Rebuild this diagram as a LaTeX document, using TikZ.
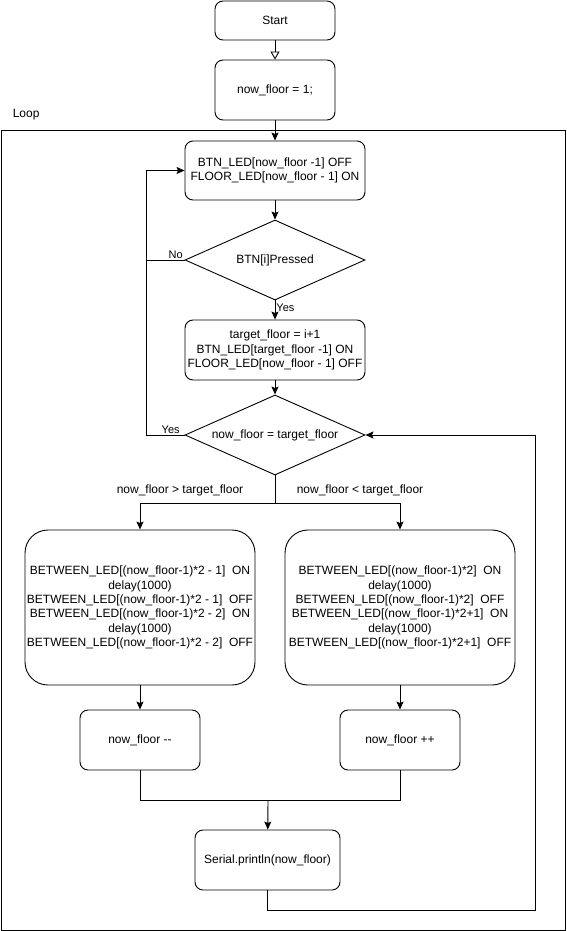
\documentclass[tikz,border=0pt]{standalone}
\usepackage{fontspec}
\setmainfont{Liberation Sans}
\usetikzlibrary{shapes.geometric,arrows.meta}

\tikzset{
    box/.style={draw,rounded corners=8pt,minimum width=120pt,minimum height=60pt,align=center,inner sep=0pt},
    bigbox/.style={draw,rounded corners=23pt,minimum width=230pt,minimum height=155pt,align=center,inner sep=0pt},
    decision/.style={draw,diamond,aspect=2.25,minimum width=180pt,minimum height=80pt,inner sep=0pt,align=center},
    flow/.style={-{Stealth[length=8pt,width=7pt,inset=1.5pt]}},
    edgelabel/.style={font=\fontsize{11}{13}\selectfont,inner sep=1pt},
}

\begin{document}
\begin{tikzpicture}[x=1pt,y=-1pt,line width=0.9pt,font=\fontsize{12}{14.4}\selectfont]
    \useasboundingbox (0,0) rectangle (566,931);

    % Disegna il contenitore del ciclo
    \draw (1,130.5) rectangle (565,930);
    \node[anchor=west] (looplabel) at (9,115) {Loop};

    % Disegna i blocchi
    \node[box,minimum height=39pt] (start) at (275,20.5) {Start};
    \node[box] (init) at (275,90) {now\_floor = 1;};
    \node[box,minimum width=180pt,minimum height=59pt] (show) at (275,170.5)
        {BTN\_LED[now\_floor -1] OFF\\FLOOR\_LED[now\_floor - 1] ON};
    \node[decision] (press) at (275,260) {BTN[i]Pressed};
    \node[box,minimum width=180pt] (setup) at (275,350)
        {target\_floor = i+1\\BTN\_LED[target\_floor -1] ON\\FLOOR\_LED[now\_floor - 1] OFF};
    \node[decision] (arrive) at (275,435) {now\_floor = target\_floor};

    \node[bigbox] (down) at (140,607.5)
        {BETWEEN\_LED[(now\_floor-1)*2 - 1]~ ON\\delay(1000)\\BETWEEN\_LED[(now\_floor-1)*2 - 1]~ OFF\\
         BETWEEN\_LED[(now\_floor-1)*2 - 2]~ ON\\delay(1000)\\BETWEEN\_LED[(now\_floor-1)*2 - 2]~ OFF};
    \node[bigbox] (up) at (400,607.5)
        {BETWEEN\_LED[(now\_floor-1)*2]~ ON\\delay(1000)\\BETWEEN\_LED[(now\_floor-1)*2]~ OFF\\
         BETWEEN\_LED[(now\_floor-1)*2+1]~ ON\\delay(1000)\\BETWEEN\_LED[(now\_floor-1)*2+1]~ OFF};

    \node[box] (decr) at (140,740) {now\_floor -{}-};
    \node[box] (incr) at (400,740) {now\_floor ++};
    \node[box,minimum width=145pt] (print) at (267.5,860) {Serial.println(now\_floor)};

    % Punti di giunzione
    \coordinate (back) at (146,260);
    \coordinate (split) at (275,503);
    \coordinate (join) at (268,800);
    \coordinate (ret) at (535,910);

    % Disegna le frecce
    \draw[-{Triangle[open,length=8pt,width=9pt]}] (start) -- (init);
    \draw[flow] (init) -- (show);
    \draw[flow] (show) -- (press);
    \draw[flow] (press) -- node[edgelabel,right,pos=0.4] {Yes} (setup);
    \draw[flow] (setup) -- (arrive);
    \draw[flow] (press.west) -- node[edgelabel,above,pos=0.23] {No} (back) |- (show.west);
    \draw (arrive.west) -- node[edgelabel,above,pos=0.36] {Yes} (arrive.west -| back) -- (back);

    % Rami della decisione
    \draw (arrive.south) -- (split);
    \draw[flow] (split) -| (down.north);
    \draw[flow] (split) -| (up.north);
    \node (lbldown) at (180,490) {now\_floor \textgreater{} target\_floor};
    \node (lblup) at (360,490) {now\_floor \textless{} target\_floor};

    \draw[flow] (down) -- (decr);
    \draw[flow] (up) -- (incr);
    \draw (decr.south) |- (join);
    \draw (incr.south) |- (join);
    \draw[flow] (join) -- (print);

    % Ritorno al confronto
    \draw[flow] (print.south) |- (ret) |- (arrive.east);

\end{tikzpicture}
\end{document}
